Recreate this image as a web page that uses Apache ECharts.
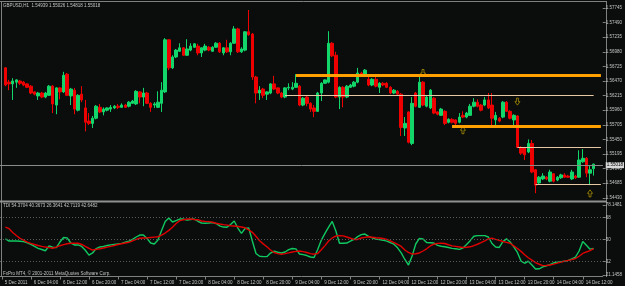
<!DOCTYPE html>
<html>
<head>
<meta charset="utf-8">
<script src="https://cdn.jsdelivr.net/npm/echarts@6/dist/echarts.min.js"></script>
<style>
html, body { margin: 0; padding: 0; background: #0b0d0d; }
#chart { width: 625px; height: 286px; }
</style>
</head>
<body>
<div id="chart"></div>
<script>
// GBPUSD H1 bars, 5 Dec 2011 21:00 .. 14 Dec 2011 15:00  [open, close, low, high]
var ohlc = [
  [1.5670,1.5640,1.5638,1.5671],[1.5645,1.5642,1.5631,1.5649],[1.5642,1.5647,1.5614,1.5652],[1.5645,1.5649,1.5635,1.5650],
  [1.5647,1.5643,1.5640,1.5649],[1.5645,1.5640,1.5638,1.5647],[1.5642,1.5636,1.5635,1.5643],[1.5638,1.5626,1.5624,1.5640],
  [1.5628,1.5624,1.5622,1.5629],[1.5621,1.5626,1.5614,1.5628],[1.5626,1.5619,1.5617,1.5628],[1.5619,1.5626,1.5617,1.5628],
  [1.5622,1.5638,1.5621,1.5640],[1.5638,1.5607,1.5591,1.5640],[1.5605,1.5635,1.5589,1.5636],[1.5635,1.5628,1.5615,1.5636],
  [1.5628,1.5657,1.5626,1.5663],[1.5659,1.5622,1.5621,1.5661],[1.5621,1.5633,1.5605,1.5635],[1.5631,1.5598,1.5589,1.5635],
  [1.5596,1.5622,1.5594,1.5624],[1.5624,1.5614,1.5610,1.5638],[1.5600,1.5575,1.5559,1.5614],[1.5577,1.5573,1.5570,1.5591],
  [1.5573,1.5582,1.5565,1.5586],[1.5582,1.5603,1.5580,1.5605],[1.5601,1.5593,1.5591,1.5607],[1.5593,1.5598,1.5587,1.5601],
  [1.5596,1.5600,1.5594,1.5601],[1.5598,1.5601,1.5593,1.5605],[1.5600,1.5603,1.5598,1.5605],[1.5603,1.5601,1.5598,1.5607],
  [1.5601,1.5605,1.5600,1.5608],[1.5605,1.5601,1.5600,1.5607],[1.5603,1.5610,1.5601,1.5612],[1.5608,1.5612,1.5607,1.5614],
  [1.5607,1.5629,1.5605,1.5631],[1.5628,1.5619,1.5608,1.5629],[1.5619,1.5626,1.5603,1.5635],[1.5626,1.5608,1.5607,1.5628],
  [1.5608,1.5601,1.5593,1.5610],[1.5605,1.5607,1.5600,1.5610],[1.5601,1.5610,1.5600,1.5629],[1.5608,1.5631,1.5593,1.5645],
  [1.5628,1.5719,1.5626,1.5722],[1.5719,1.5670,1.5666,1.5720],[1.5670,1.5689,1.5668,1.5692],[1.5689,1.5701,1.5687,1.5703],
  [1.5699,1.5705,1.5698,1.5713],[1.5705,1.5692,1.5691,1.5706],[1.5692,1.5703,1.5691,1.5720],[1.5701,1.5708,1.5699,1.5713],
  [1.5706,1.5712,1.5705,1.5713],[1.5708,1.5696,1.5692,1.5712],[1.5696,1.5705,1.5689,1.5706],[1.5701,1.5708,1.5699,1.5712],
  [1.5706,1.5701,1.5699,1.5708],[1.5699,1.5706,1.5698,1.5708],[1.5706,1.5713,1.5705,1.5715],[1.5713,1.5698,1.5696,1.5715],
  [1.5696,1.5705,1.5692,1.5706],[1.5705,1.5698,1.5696,1.5719],[1.5698,1.5713,1.5692,1.5715],[1.5713,1.5738,1.5712,1.5743],
  [1.5738,1.5698,1.5696,1.5740],[1.5698,1.5703,1.5696,1.5706],[1.5701,1.5733,1.5699,1.5734],[1.5733,1.5728,1.5726,1.5771],
  [1.5729,1.5654,1.5649,1.5731],[1.5654,1.5626,1.5608,1.5656],[1.5626,1.5631,1.5614,1.5638],[1.5633,1.5622,1.5617,1.5635],
  [1.5624,1.5628,1.5614,1.5629],[1.5626,1.5642,1.5624,1.5643],[1.5642,1.5633,1.5631,1.5656],[1.5635,1.5626,1.5624,1.5636],
  [1.5626,1.5619,1.5617,1.5628],[1.5619,1.5635,1.5617,1.5636],[1.5635,1.5636,1.5631,1.5643],[1.5633,1.5636,1.5631,1.5645],
  [1.5636,1.5643,1.5635,1.5659],[1.5638,1.5605,1.5603,1.5640],[1.5605,1.5617,1.5603,1.5619],[1.5619,1.5608,1.5603,1.5621],
  [1.5608,1.5598,1.5593,1.5610],[1.5600,1.5594,1.5584,1.5605],[1.5594,1.5626,1.5593,1.5628],[1.5626,1.5643,1.5612,1.5645],
  [1.5643,1.5649,1.5642,1.5650],[1.5645,1.5713,1.5643,1.5734],[1.5713,1.5691,1.5689,1.5715],[1.5692,1.5619,1.5617,1.5698],
  [1.5619,1.5636,1.5598,1.5638],[1.5636,1.5619,1.5601,1.5638],[1.5619,1.5638,1.5617,1.5640],[1.5636,1.5640,1.5635,1.5642],
  [1.5638,1.5645,1.5636,1.5647],[1.5645,1.5661,1.5643,1.5670],[1.5661,1.5659,1.5657,1.5663],[1.5659,1.5666,1.5657,1.5668],
  [1.5650,1.5640,1.5638,1.5654],[1.5640,1.5650,1.5638,1.5652],[1.5650,1.5638,1.5636,1.5654],[1.5636,1.5643,1.5626,1.5645],
  [1.5643,1.5640,1.5638,1.5645],[1.5643,1.5636,1.5635,1.5645],[1.5636,1.5626,1.5624,1.5638],[1.5626,1.5631,1.5624,1.5633],
  [1.5629,1.5624,1.5622,1.5631],[1.5624,1.5566,1.5551,1.5626],[1.5565,1.5573,1.5551,1.5584],[1.5593,1.5540,1.5538,1.5594],
  [1.5538,1.5608,1.5535,1.5619],[1.5626,1.5603,1.5601,1.5628],[1.5601,1.5645,1.5600,1.5656],[1.5645,1.5605,1.5603,1.5647],
  [1.5603,1.5619,1.5601,1.5621],[1.5600,1.5631,1.5598,1.5633],[1.5617,1.5591,1.5589,1.5619],[1.5593,1.5589,1.5587,1.5594],
  [1.5587,1.5598,1.5586,1.5600],[1.5594,1.5573,1.5570,1.5596],[1.5575,1.5580,1.5573,1.5582],[1.5580,1.5575,1.5573,1.5582],
  [1.5579,1.5573,1.5570,1.5580],[1.5575,1.5584,1.5573,1.5591],[1.5587,1.5584,1.5582,1.5594],[1.5584,1.5591,1.5582,1.5593],
  [1.5587,1.5603,1.5586,1.5607],[1.5603,1.5610,1.5601,1.5617],[1.5610,1.5603,1.5601,1.5615],[1.5605,1.5596,1.5594,1.5607],
  [1.5605,1.5614,1.5603,1.5619],[1.5614,1.5600,1.5598,1.5626],[1.5605,1.5582,1.5565,1.5626],[1.5579,1.5587,1.5566,1.5593],
  [1.5582,1.5577,1.5575,1.5584],[1.5584,1.5610,1.5582,1.5612],[1.5610,1.5594,1.5593,1.5612],[1.5594,1.5582,1.5580,1.5596],
  [1.5579,1.5587,1.5566,1.5589],[1.5586,1.5531,1.5530,1.5587],[1.5531,1.5521,1.5518,1.5533],[1.5530,1.5518,1.5509,1.5531],
  [1.5523,1.5538,1.5521,1.5545],[1.5538,1.5488,1.5486,1.5544],[1.5492,1.5465,1.5451,1.5493],[1.5469,1.5479,1.5467,1.5481],
  [1.5476,1.5481,1.5474,1.5486],[1.5479,1.5476,1.5474,1.5481],[1.5472,1.5488,1.5470,1.5492],[1.5485,1.5472,1.5470,1.5486],
  [1.5474,1.5479,1.5472,1.5481],[1.5478,1.5483,1.5476,1.5485],[1.5483,1.5479,1.5478,1.5486],[1.5481,1.5479,1.5478,1.5483],
  [1.5476,1.5488,1.5474,1.5492],[1.5481,1.5478,1.5476,1.5483],[1.5479,1.5509,1.5478,1.5526],[1.5506,1.5512,1.5504,1.5528],
  [1.5512,1.5486,1.5479,1.5514],[1.5486,1.5492,1.5465,1.5500],[1.54939,1.55018,1.54818,1.55026]
];

// TDI price line (green) and signal line (red), one value per bar
var tdiPrice = [
  50.5,48.8,48.8,48.8,48.6,48.3,47.4,46.0,44.4,42.9,41.9,40.9,44.8,43.8,43.4,48.0,51.7,51.4,47.2,45.6,
  45.6,44.4,41.3,37.3,39.1,42.7,44.0,44.4,45.2,45.7,46.1,46.5,46.9,47.9,48.8,50.1,52.1,53.7,53.7,50.9,
  47.2,46.4,49.6,57.4,64.7,67.6,64.3,65.5,66.7,66.7,65.9,66.3,66.7,64.9,63.5,63.3,63.5,63.9,63.1,61.1,
  60.2,60.0,62.3,65.1,59.4,55.1,59.0,59.4,48.8,38.7,36.4,36.1,36.1,39.0,40.5,39.7,39.1,39.9,41.8,42.7,
  42.4,38.2,37.7,37.0,35.8,35.4,41.9,49.6,55.0,60.2,64.8,57.0,47.0,47.0,47.2,48.8,50.1,52.4,54.0,54.5,
  52.6,51.4,50.4,50.0,49.5,48.7,47.6,46.2,43.3,39.1,33.8,29.3,36.6,46.4,50.9,50.5,47.6,47.4,47.2,45.3,
  44.6,44.2,43.5,42.8,42.5,42.0,43.1,46.0,49.1,52.7,53.2,53.2,53.2,52.1,46.8,44.0,43.6,48.3,50.6,48.0,
  44.0,39.5,32.5,30.7,32.4,29.3,26.0,26.2,27.7,28.7,29.6,31.1,31.6,32.0,32.3,33.1,34.3,35.8,40.7,48.4,
  45.4,42.2,42.7119
];
var tdiSignal = [
  60.2,58.9,55.8,53.3,51.0,49.6,47.9,46.9,46.0,45.2,44.5,43.9,43.4,42.9,43.8,45.0,45.9,46.6,47.0,47.0,
  47.0,46.0,44.4,42.9,41.5,42.0,42.5,43.1,43.9,44.5,45.2,46.0,46.6,47.2,47.8,49.0,50.1,51.1,51.3,51.4,
  51.7,52.0,52.3,53.7,55.3,57.5,60.0,63.1,65.4,66.1,66.7,66.7,66.4,66.2,65.1,64.8,64.6,64.1,63.3,62.7,
  62.2,61.8,61.3,61.0,60.6,60.2,59.6,57.9,55.9,52.7,49.0,46.5,44.2,41.5,39.5,38.6,38.1,38.6,39.2,39.9,
  40.4,40.7,40.2,39.5,38.6,38.1,38.7,41.7,45.1,48.8,51.3,52.9,53.2,53.0,52.1,51.1,50.1,50.1,51.3,51.8,
  52.3,51.9,51.5,51.3,50.9,50.1,49.0,47.5,46.0,44.4,41.5,39.5,38.2,38.5,39.1,40.7,42.5,44.8,46.2,46.9,
  47.0,46.8,45.8,44.9,44.5,44.0,43.5,43.7,44.1,45.0,46.2,47.5,49.0,50.6,51.2,50.2,49.3,48.4,47.7,47.0,
  44.9,42.7,40.4,37.7,35.2,33.3,31.3,29.9,28.8,28.9,29.3,30.0,30.8,31.6,32.4,33.1,33.7,34.6,36.4,38.7,
  39.9,41.0,42.6482
];

var priceTicks = [1.57745,1.57490,1.57235,1.56980,1.56725,1.56470,1.56215,1.55960,1.55705,1.55450,1.55195,1.54940,1.54685,1.54430];
var tdiTicks = [78.1481, 68, 50, 32, 21.1458];
var tdiLevels = [68, 50, 32];
var timeTicks = ['5 Dec 2011','6 Dec 04:00','6 Dec 12:00','6 Dec 20:00','7 Dec 04:00','7 Dec 12:00','7 Dec 20:00',
  '8 Dec 04:00','8 Dec 12:00','8 Dec 20:00','9 Dec 04:00','9 Dec 12:00','9 Dec 20:00','12 Dec 04:00','12 Dec 12:00',
  '12 Dec 20:00','13 Dec 04:00','13 Dec 12:00','13 Dec 20:00','14 Dec 04:00','14 Dec 12:00'];

var bidPrice = 1.55018;
// drawn objects: [from bar, to bar, price]
var thickLines = [[81, 165, 1.5657], [124, 165, 1.55687]];
var thinLines = [[78, 163, 1.56217], [142, 165, 1.55308], [147, 165, 1.54671]];
var arrowsDown = [[116, 1.5661], [142, 1.5611]];
var arrowsUp = [[127, 1.5561], [162, 1.54508]];

// hourly categories, weekend skipped; slot 0 is 5 Dec 20:00
var categories = [];
var t = Date.UTC(2011, 11, 5, 20);
while (categories.length < 166) {
  var d = new Date(t);
  var wd = d.getUTCDay();
  if (wd !== 0 && wd !== 6) categories.push(d.getUTCDate() + ' Dec ' + ('0' + d.getUTCHours()).slice(-2) + ':00');
  t += 3600000;
}

var GREEN = '#12d66a', RED = '#ee0000', TXT = '#c4c4c4', FRAME = '#808080';
var FONT = 'Liberation Sans';
var FS = 4.5;

var candleData = ['-'].concat(ohlc);
var greenData = ['-'].concat(tdiPrice);
var redData = ['-'].concat(tdiSignal);

var objLines = [];
thickLines.forEach(function (l) {
  objLines.push([{ coord: [l[0], l[2]], lineStyle: { color: '#ffa000', width: 3, type: 'solid' } }, { coord: [l[1], l[2]] }]);
});
thinLines.forEach(function (l) {
  objLines.push([{ coord: [l[0], l[2]], lineStyle: { color: '#e6c8a4', width: 1, type: 'solid' } }, { coord: [l[1], l[2]] }]);
});
objLines.push({ yAxis: bidPrice - 0.00028, lineStyle: { color: '#b0703a', width: 1, type: [1, 1] } });
objLines.push({
  yAxis: bidPrice, lineStyle: { color: '#8a8a8a', width: 1, type: 'solid' },
  label: { show: true, position: 'end', distance: 3, formatter: bidPrice.toFixed(5), color: '#000',
    backgroundColor: '#d8d8d8', padding: [1, 1, 0, 1], fontSize: FS, fontFamily: FONT }
});

var downPath = 'path://M3,0 L7,0 L7,6 L10,6 L5,12 L0,6 L3,6 Z';
var upPath = 'path://M5,0 L10,6 L7,6 L7,12 L3,12 L3,6 L0,6 Z';

var chart = echarts.init(document.getElementById('chart'), null, { renderer: 'canvas' });
chart.setOption({
  backgroundColor: '#0b0d0d',
  animation: false,
  grid: [
    { left: -3.47, right: 18.8, top: 3, height: 198 },
    { left: -3.47, right: 18.8, top: 203, height: 73.5 }
  ],
  xAxis: [
    { type: 'category', gridIndex: 0, data: categories, boundaryGap: true,
      axisLine: { show: false }, axisTick: { show: false }, axisLabel: { show: false }, splitLine: { show: false } },
    { type: 'category', gridIndex: 1, data: categories, boundaryGap: true,
      axisLine: { show: true, lineStyle: { color: FRAME, width: 1 } },
      axisTick: { show: true, alignWithLabel: true, length: 3, lineStyle: { color: FRAME },
        interval: function (i) { return i % 8 === 0; } },
      axisLabel: { show: true, color: TXT, fontSize: FS, fontFamily: FONT, align: 'left', margin: 4,
        padding: [0, 0, 0, 3],
        interval: function (i) { return i % 8 === 0; },
        formatter: function (v, i) { return i % 8 === 0 ? (timeTicks[i / 8] || '') : ''; } },
      splitLine: { show: false } }
  ],
  yAxis: [
    { type: 'value', gridIndex: 0, position: 'right', min: 1.54374, max: 1.57833, scale: true,
      axisLine: { show: false },
      axisTick: { show: true, length: 3, lineStyle: { color: FRAME }, customValues: priceTicks },
      axisLabel: { show: true, color: TXT, fontSize: FS, fontFamily: FONT, margin: 3,
        customValues: priceTicks, formatter: function (v) { return v.toFixed(5); } },
      splitLine: { show: false } },
    { type: 'value', gridIndex: 1, position: 'right', min: 19.93, max: 79.78,
      axisLine: { show: false },
      axisTick: { show: true, length: 3, lineStyle: { color: FRAME }, customValues: tdiTicks },
      axisLabel: { show: true, color: TXT, fontSize: FS, fontFamily: FONT, margin: 3,
        customValues: tdiTicks, formatter: function (v) { return String(v); } },
      splitLine: { show: false } }
  ],
  series: [
    { type: 'candlestick', xAxisIndex: 0, yAxisIndex: 0, data: candleData, barWidth: 3,
      itemStyle: { color: GREEN, color0: RED, borderColor: GREEN, borderColor0: RED, borderWidth: 1 },
      markLine: { silent: true, symbol: ['none', 'none'], label: { show: false }, animation: false, data: objLines } },
    { type: 'scatter', xAxisIndex: 0, yAxisIndex: 0, data: arrowsDown, symbol: downPath, symbolSize: [5, 7],
      itemStyle: { color: 'rgba(0,0,0,0)', borderColor: '#c8aa00', borderWidth: 0.8 }, silent: true },
    { type: 'scatter', xAxisIndex: 0, yAxisIndex: 0, data: arrowsUp, symbol: upPath, symbolSize: [5, 7],
      itemStyle: { color: 'rgba(0,0,0,0)', borderColor: '#c8aa00', borderWidth: 0.8 }, silent: true },
    { type: 'line', xAxisIndex: 1, yAxisIndex: 1, data: greenData, showSymbol: false, symbol: 'none',
      lineStyle: { color: '#10c860', width: 1.4 },
      markLine: { silent: true, symbol: ['none', 'none'], label: { show: false },
        lineStyle: { color: '#5a5a5a', width: 1, type: [1, 2] },
        data: tdiLevels.map(function (v) { return { yAxis: v }; }) } },
    { type: 'line', xAxisIndex: 1, yAxisIndex: 1, data: redData, showSymbol: false, symbol: 'none',
      lineStyle: { color: '#e00000', width: 1.4 } }
  ],
  graphic: [
    { type: 'line', shape: { x1: 0, y1: 1.5, x2: 606.5, y2: 1.5 }, style: { stroke: FRAME, lineWidth: 1 }, silent: true },
    { type: 'line', shape: { x1: 1.5, y1: 1, x2: 1.5, y2: 277 }, style: { stroke: FRAME, lineWidth: 1 }, silent: true },
    { type: 'line', shape: { x1: 606.5, y1: 1, x2: 606.5, y2: 277 }, style: { stroke: FRAME, lineWidth: 1 }, silent: true },
    { type: 'line', shape: { x1: 0, y1: 201.5, x2: 606.5, y2: 201.5 }, style: { stroke: '#909090', lineWidth: 2 }, silent: true },
    { type: 'text', left: 3, top: 3, style: { text: 'GBPUSD,H1  1.54939 1.55026 1.54818 1.55018', fill: TXT, fontSize: FS, fontFamily: FONT } },
    { type: 'text', left: 3, top: 203, style: { text: 'TDI 54.3704 40.3673 26.3641 42.7119 42.6482', fill: TXT, fontSize: FS, fontFamily: FONT } },
    { type: 'text', left: 3, top: 271.5, style: { text: 'FxPro MT4, \u00a9 2001-2011 MetaQuotes Software Corp.', fill: TXT, fontSize: FS, fontFamily: FONT } }
  ]
});
</script>
</body>
</html>
